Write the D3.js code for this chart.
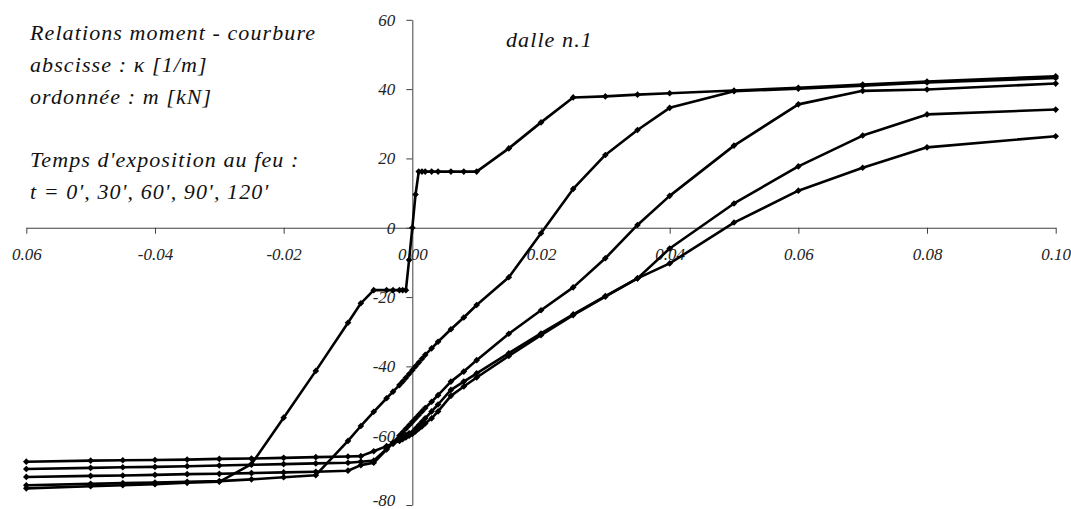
<!DOCTYPE html>
<html><head><meta charset="utf-8">
<script src="https://cdn.jsdelivr.net/npm/d3@7"></script>
<style>body{margin:0;background:#fff} svg{display:block}</style>
</head><body><svg id="c" width="1071" height="509"></svg>
<script>
// curvature grid (1/m)
const kappa = [-0.06,-0.05,-0.045,-0.04,-0.035,-0.03,-0.025,-0.02,-0.015,-0.01,-0.008,-0.006,-0.004,-0.003,-0.002,-0.0015,-0.001,-0.0005,0,0.0005,0.001,0.0015,0.002,0.003,0.004,0.006,0.008,0.01,0.015,0.02,0.025,0.03,0.035,0.04,0.05,0.06,0.07,0.08,0.10];
// moments (kN) for each fire exposure time
const m_t0   = [-75.2,-74.6,-74.3,-74.0,-73.6,-73.3,-68.2,-54.8,-41.3,-27.4,-21.8,-18.0,-18.0,-18.0,-18.0,-18.0,-18.0,-9.3,0,9.6,16.2,16.2,16.2,16.2,16.2,16.2,16.2,16.2,22.9,30.4,37.6,37.9,38.4,38.8,39.6,40.4,41.3,42.2,43.7];
const m_t30  = [-74.3,-73.9,-73.7,-73.5,-73.3,-73.1,-72.6,-72.0,-71.4,-61.5,-57.2,-53.1,-49.2,-47.3,-45.4,-44.4,-43.3,-42.2,-41.1,-40.0,-38.9,-37.8,-36.7,-34.8,-32.9,-29.3,-25.9,-22.3,-14.3,-1.6,11.2,21.0,28.2,34.6,39.4,40.1,41.0,41.9,43.2];
const m_t60  = [-71.9,-71.6,-71.5,-71.3,-71.1,-71.0,-70.8,-70.6,-70.4,-70.1,-68.5,-67.8,-64.0,-62.0,-60.0,-59.0,-58.0,-57.0,-56.0,-55.0,-54.0,-53.0,-52.0,-50.2,-48.3,-44.4,-41.5,-38.2,-30.6,-23.8,-17.2,-8.8,0.8,9.2,23.7,35.6,39.5,39.9,41.6];
const m_t90  = [-69.6,-69.3,-69.1,-69.0,-68.8,-68.6,-68.4,-68.2,-68.0,-67.8,-67.5,-67.2,-63.8,-62.2,-61.0,-60.4,-59.8,-59.3,-59.0,-58.0,-57.0,-56.0,-55.0,-53.0,-51.0,-46.8,-44.4,-42.0,-36.2,-30.5,-25.0,-19.7,-14.6,-6.0,7.0,17.7,26.6,32.7,34.1];
const m_t120 = [-67.5,-67.2,-67.1,-67.0,-66.9,-66.7,-66.6,-66.4,-66.2,-66.0,-65.9,-64.5,-63.0,-62.3,-61.5,-61.0,-60.5,-60.0,-59.5,-58.8,-58.0,-57.3,-56.5,-55.0,-53.0,-48.5,-45.8,-43.2,-37.0,-31.0,-25.2,-19.9,-14.6,-10.3,1.5,10.7,17.3,23.2,26.4];
const seriesNames = ["t = 0'","t = 30'","t = 60'","t = 90'","t = 120'"];

const xTicks = [-0.06,-0.04,-0.02,0,0.02,0.04,0.06,0.08,0.10];
const xTickLabels = ["0.06","-0.04","-0.02","0.00","0.02","0.04","0.06","0.08","0.10"];
const yTicks = [-80,-60,-40,-20,0,20,40,60];
const yTickLabels = ["-80","-60","-40","-20","0","20","40","60"];
const infoLines = ["Relations moment - courbure","abscisse :  \u03ba [1/m]","ordonnée : m [kN]","","Temps d'exposition au feu :","t = 0', 30', 60', 90', 120'"];
const chartTitle = "dalle n.1";

const svg = d3.select("#c");
const x = d3.scaleLinear().domain([-0.06,0.10]).range([26.3,1055.7]);
const y = d3.scaleLinear().domain([-80,60]).range([505,19.8]);
const FONT = "Liberation Serif";

// x axis
const gx = svg.append("g").attr("transform",`translate(0,${y(0)})`)
  .call(d3.axisBottom(x).tickValues(xTicks).tickFormat((d,i)=>xTickLabels[i]).tickSize(6).tickSizeOuter(0).tickPadding(14));
// y axis
const gy = svg.append("g").attr("transform",`translate(${x(0)},0)`)
  .call(d3.axisLeft(y).tickValues(yTicks).tickFormat((d,i)=>yTickLabels[i]).tickSize(6).tickSizeOuter(0).tickPadding(11));
[gx,gy].forEach(g=>{
  g.attr("font-family",FONT).attr("font-size",17).attr("font-style","italic");
  g.selectAll("path,line").attr("stroke","#404040").attr("stroke-width",1);
  g.selectAll("text").attr("font-family",FONT).attr("font-style","italic").attr("font-size",17).attr("fill","#222");
});
gy.selectAll(".tick text").filter((d)=>d===-80).attr("dy","0.0em");

// series
const allSeries = [m_t0,m_t30,m_t60,m_t90,m_t120].map((m,i)=>({name:seriesNames[i],pts:kappa.map((k,j)=>[k,m[j]])}));
const line = d3.line().x(d=>x(d[0])).y(d=>y(d[1]));
const diamond = {draw(ctx,size){const r=Math.sqrt(size/2);ctx.moveTo(0,-r);ctx.lineTo(r,0);ctx.lineTo(0,r);ctx.lineTo(-r,0);ctx.closePath();}};
const sym = d3.symbol().type(diamond).size(22);
allSeries.forEach(s=>{
  svg.append("path").datum(s.pts).attr("d",line).attr("fill","none").attr("stroke","#000")
    .attr("stroke-width",2.6).attr("stroke-linejoin","round");
  svg.append("g").selectAll("path").data(s.pts).join("path")
    .attr("transform",d=>`translate(${x(d[0])},${y(d[1])})`).attr("d",sym).attr("fill","#000");
});

// texts
const baselines = [40,72,104,136,167,199];
infoLines.forEach((t,i)=>{
  if(!t) return;
  svg.append("text").attr("x",30).attr("y",baselines[i]).text(t)
    .attr("font-family",FONT).attr("font-style","italic").attr("font-size",22).attr("letter-spacing",1.1).attr("fill","#111");
});
svg.append("text").attr("x",506).attr("y",47).text(chartTitle)
  .attr("font-family",FONT).attr("font-style","italic").attr("font-size",22).attr("letter-spacing",1.1).attr("fill","#111");
</script></body></html>
